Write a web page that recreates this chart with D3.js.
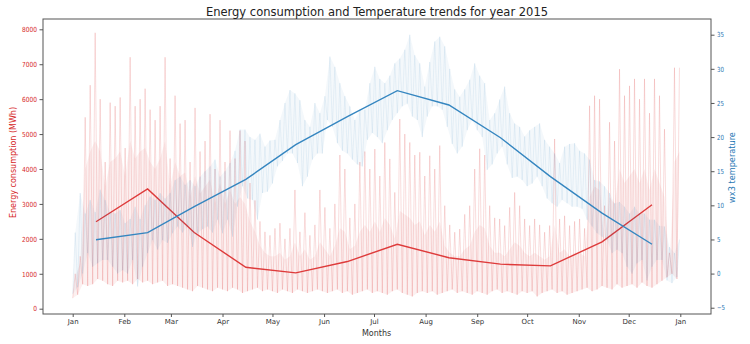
<!DOCTYPE html>
<html>
<head>
<meta charset="utf-8">
<script src="https://cdn.jsdelivr.net/npm/d3@7"></script>
<style>
  html, body { margin: 0; padding: 0; background: #fff; }
  svg text { font-family: "DejaVu Sans", sans-serif; }
</style>
</head>
<body>
<svg id="chart" width="750" height="344"></svg>
<script>
// ---------- DATA ----------
const monthLabels = ["Jan","Feb","Mar","Apr","May","Jun","Jul","Aug","Sep","Oct","Nov","Dec"];
// Monthly averages (plotted on 15th of each month)
const monthlyEnergy = [2490, 3430, 2180, 1185, 1025, 1350, 1844, 1460, 1275, 1225, 1915, 2978];
const monthlyTemp   = [4.95, 6.0, 9.8, 13.8, 18.9, 23.0, 26.8, 24.7, 19.9, 14.2, 8.85, 4.3];

// Detailed trace: one low reading every 3 days (day 0,3,6,...)
// and peak readings half-way between (day 1.5, 4.5, ...)
const energyLow = [
  300, 400, 700, 650, 700, 850, 800, 700, 650, 800, 750,
  800, 700, 850, 750, 800, 700, 750, 800, 650,
  700, 650, 600, 550, 500, 650, 600, 550, 500, 600,
  550, 500, 600, 550, 450, 500, 550, 600, 500, 550,
  500, 450, 550, 500, 450, 550, 500, 450, 500, 550, 500,
  450, 500, 550, 450, 500, 400, 450, 500, 550, 450,
  500, 450, 400, 500, 550, 450, 400, 350, 450, 500,
  450, 500, 400, 450, 500, 550, 450, 500, 450, 400,
  500, 450, 400, 500, 550, 450, 500, 450, 400, 500,
  450, 500, 350, 450, 500, 550, 450, 500, 400, 450,
  500, 550, 600, 500, 550, 650, 600, 550, 700, 600,
  650, 700, 600, 750, 650, 600, 700, 800, 900, 1000, 850
];
// typical daily peak (top of the dense band)
const energyMid = [
  900, 1300, 4000, 4500, 4800, 4500, 3500, 4200, 4300, 4500, 3800,
  4800, 4300, 4500, 4600, 4200, 4000, 4300, 4800, 3500,
  4200, 3800, 3900, 3200, 3800, 3300, 3500, 3700, 3000, 3600,
  3000, 3400, 3000, 3200, 3000, 2500, 2200, 1800, 1600, 1500,
  1500, 1600, 1400, 1500, 1900, 1500, 1700, 1400, 1500, 1900, 1700,
  1500, 1800, 2300, 2200, 1700, 1800, 2200, 2400, 2200, 2500,
  2200, 2600, 2400, 2000, 2800, 2700, 2600, 2400, 2500, 2100,
  2400, 2200, 2500, 1800, 1600, 1500, 1500, 1700, 1800, 2200,
  2400, 2300, 1800, 1600, 1600, 1500, 1700, 1900, 1800, 1600,
  1500, 1600, 1500, 1400, 1500, 2400, 1600, 1700, 1500, 1600,
  1600, 1500, 3200, 3500, 3400, 1900, 3200, 3000, 4000, 3600,
  3800, 4000, 3600, 4000, 3400, 4000, 3600, 3200, 1200, 4200, 4500
];
// spike maximum
const energyHigh = [
  1000, 1500, 5480, 6400, 7900, 6000, 4200, 5900, 5800, 6050, 4600,
  7200, 5800, 6000, 6300, 5700, 5400, 5800, 7200, 4300,
  6100, 5300, 5400, 4200, 5750, 4500, 4800, 5570, 4000, 5400,
  4200, 5100, 4300, 5100, 4800, 3600, 3100, 2500, 2200, 2100,
  2300, 2450, 2000, 2300, 3400, 2200, 2750, 2100, 2400, 3400, 2900,
  2300, 3000, 4400, 4000, 2600, 3000, 4200, 4500, 4000, 4570,
  3800, 4760, 4290, 3330, 5430, 5000, 4760, 4400, 4480, 3800,
  4380, 4000, 4670, 2950, 2400, 2190, 2280, 2700, 2950, 4000,
  4580, 4400, 2950, 2600, 2570, 2380, 2900, 3330, 2950, 2570,
  2380, 2570, 2400, 2190, 2380, 4860, 2570, 2660, 2380, 2500,
  2570, 2300, 5810, 6100, 6000, 2950, 5340, 4800, 6860, 6100,
  6380, 6580, 6000, 6580, 5600, 6580, 6100, 5140, 1600, 6900, 6900
];
const tempLow = [
  -3, -2, 0, 3, 1, 1.5, 2, 2, 1, 0, 0.5,
  0, 2, -1.9, 1, 3, 4.9, 3.5, 4.9, 4.5,
  5.9, 6.9, 6, 6.9, 3.9, 5.9, 6.5, 6.9, 6, 7.9,
  5.9, 7.9, 5.4, 9.8, 12.8, 11, 10.8, 7.9, 11.8, 12,
  13.2, 15.7, 16.5, 17.6, 17.6, 16.2, 12.8, 14.2, 16.7, 17.6, 17.6,
  22.5, 21.5, 19.1, 18, 17.6, 16.7, 16, 15.7, 19.6, 20.6,
  20, 19.1, 21, 22.5, 23.5, 24.5, 24.9, 23, 22.5, 20,
  23, 24.5, 24.5, 24, 21.5, 19, 17.6, 18.6, 21, 22.5,
  21, 20, 15.2, 16, 17.6, 18.6, 16, 14, 14.2, 13.7,
  12.8, 13.2, 14.2, 12.8, 11, 10.3, 9.8, 10.8, 10.3, 9.8,
  9.8, 9.5, 7.9, 6.9, 5.9, 5.4, 4.9, 3, 3.5, 3,
  1, 0, 1.5, 2, -1, 1, 2, 2, -1, -1.4, -0.5
];
const tempHigh = [
  6, 11.8, 8.8, 10.8, 9, 12.3, 10.8, 9, 8.8, 9.3, 7.4,
  8, 9.8, 8, 10, 11.3, 10.8, 11.8, 11, 11.8,
  13.7, 14.2, 13, 13.7, 12.8, 14.2, 15, 15.7, 16.7, 14.2,
  15, 16.2, 18, 21.1, 21.1, 20, 19.6, 20.5, 18.6, 19.5,
  19.6, 22.5, 25, 26.9, 26.4, 25.4, 22.5, 21.5, 25, 23.5, 26,
  31.8, 30.3, 27.9, 26, 24.5, 22.5, 24, 24, 27.9, 30.3,
  28.5, 27.9, 29, 30.8, 31.5, 32.8, 35, 32, 30.8, 27.4,
  31, 34, 34.7, 33.3, 30, 27, 25.9, 27, 28.4, 30.8,
  29, 27.9, 22.5, 23.5, 25.5, 27.4, 23.5, 22, 21.5, 20.1,
  21, 21.5, 22, 19.6, 18.6, 17.6, 16.2, 18.6, 19, 19.1,
  18, 17.6, 16.7, 13.7, 13.5, 12.8, 11.8, 10.3, 10.5, 9.8,
  8.8, 9.8, 8.8, 8.8, 7.9, 7.9, 7, 6.9, 3.9, 3, 5
];
const energyTicks = [0, 1000, 2000, 3000, 4000, 5000, 6000, 7000, 8000];
const tempTicks = [-5, 0, 5, 10, 15, 20, 25, 30, 35];

// ---------- LAYOUT ----------
const m = { left: 43, right: 711, top: 19, bottom: 314 };
const RED = "#d62728", BLUE = "#1f77b4";
const LINE_RED = "#de3b3b", LINE_BLUE = "#3586c0";
const DAY = 864e5;
const t0 = Date.UTC(2015, 0, 1);

const svg = d3.select("#chart");

const x = d3.scaleUtc()
  .domain([new Date(t0 - 17.84 * DAY), new Date(t0 + 383.44 * DAY)])
  .range([m.left, m.right]);
const yE = d3.scaleLinear().domain([-152, 8295]).range([m.bottom, m.top]);
const yT = d3.scaleLinear().domain([-5.92, 37.3]).range([m.bottom, m.top]);

const lowDate = i => new Date(t0 + 3 * i * DAY);
const highDate = i => new Date(t0 + (3 * i + 1.5) * DAY);

// interleaved trace: low at day 3i, high at day 3i+1.5
function trace(lows, highs) {
  const pts = [];
  lows.forEach((lo, i) => {
    pts.push({ date: lowDate(i), v: lo });
    pts.push({ date: highDate(i), v: highs[i] });
  });
  return pts;
}
// closed band: highs forward, lows backward
function band(lows, highs) {
  const top = highs.map((v, i) => ({ date: highDate(i), v }));
  const bot = lows.map((v, i) => ({ date: lowDate(i), v })).reverse();
  return top.concat(bot);
}
const monthDates = monthLabels.map((_, i) => new Date(Date.UTC(2015, i, 15)));

const plot = svg.append("g");
const lineE = d3.line().x(d => x(d.date)).y(d => yE(d.v));
const lineT = d3.line().x(d => x(d.date)).y(d => yT(d.v));

// energy dense band
plot.append("path")
  .attr("fill", RED).attr("fill-opacity", 0.07).attr("stroke", "none")
  .attr("d", lineE(band(energyLow, energyMid)) + "Z");
// energy spikes
plot.append("path")
  .datum(trace(energyLow, energyHigh))
  .attr("fill", "none")
  .attr("stroke", RED).attr("stroke-opacity", 0.2).attr("stroke-width", 0.8)
  .attr("d", lineE);

// energy monthly line
plot.append("path")
  .datum(monthlyEnergy)
  .attr("fill", "none")
  .attr("stroke", LINE_RED)
  .attr("stroke-width", 1.4)
  .attr("d", d3.line().x((d, i) => x(monthDates[i])).y(d => yE(d)));

// temperature band + trace
plot.append("path")
  .attr("fill", BLUE).attr("fill-opacity", 0.05).attr("stroke", "none")
  .attr("d", lineT(band(tempLow, tempHigh)) + "Z");
plot.append("path")
  .datum(trace(tempLow, tempHigh))
  .attr("fill", "none")
  .attr("stroke", BLUE).attr("stroke-opacity", 0.1).attr("stroke-width", 0.8)
  .attr("d", lineT);

// temperature monthly line
plot.append("path")
  .datum(monthlyTemp)
  .attr("fill", "none")
  .attr("stroke", LINE_BLUE)
  .attr("stroke-width", 1.4)
  .attr("d", d3.line().x((d, i) => x(monthDates[i])).y(d => yT(d)));

// ---------- AXES ----------
const axisColor = "#555";
function styleAxis(g) {
  g.select(".domain").remove();
  g.selectAll(".tick line").attr("stroke", axisColor);
  g.selectAll(".tick text").attr("font-family", "DejaVu Sans, sans-serif");
}

const xAxis = svg.append("g")
  .attr("transform", `translate(0,${m.bottom})`)
  .call(d3.axisBottom(x)
    .ticks(d3.utcMonth.every(1))
    .tickFormat(d3.utcFormat("%b"))
    .tickSize(3).tickPadding(2.5));
styleAxis(xAxis);
xAxis.selectAll(".tick text").attr("font-size", 7).attr("fill", "#333");

const yAxisL = svg.append("g")
  .attr("transform", `translate(${m.left},0)`)
  .call(d3.axisLeft(yE).tickValues(energyTicks).tickFormat(d3.format("d"))
    .tickSize(3.5).tickPadding(2.5));
styleAxis(yAxisL);
yAxisL.selectAll(".tick text").attr("font-size", 7).attr("fill", RED)
  .each(function () {
    const n = this.getComputedTextLength();
    d3.select(this).attr("textLength", n * 0.84).attr("lengthAdjust", "spacingAndGlyphs");
  });

const yAxisR = svg.append("g")
  .attr("transform", `translate(${m.right},0)`)
  .call(d3.axisRight(yT).tickValues(tempTicks).tickSize(3.5).tickPadding(2.5));
styleAxis(yAxisR);
yAxisR.selectAll(".tick text").attr("font-size", 7).attr("fill", BLUE)
  .each(function () {
    const n = this.getComputedTextLength();
    d3.select(this).attr("textLength", n * 0.78).attr("lengthAdjust", "spacingAndGlyphs");
  });

// frame (spines)
svg.append("rect")
  .attr("x", m.left).attr("y", m.top)
  .attr("width", m.right - m.left).attr("height", m.bottom - m.top)
  .attr("fill", "none").attr("stroke", axisColor).attr("stroke-width", 1);

// ---------- LABELS ----------
svg.append("text")
  .attr("x", (m.left + m.right) / 2).attr("y", 15.7)
  .attr("text-anchor", "middle")
  .attr("font-size", 11.5).attr("fill", "#222")
  .text("Energy consumption and Temperature trends for year 2015");

svg.append("text")
  .attr("x", 376.5).attr("y", 336)
  .attr("text-anchor", "middle")
  .attr("font-size", 8).attr("fill", "#333")
  .text("Months");

svg.append("text")
  .attr("transform", "translate(15.5,162.5) rotate(-90)")
  .attr("text-anchor", "middle")
  .attr("font-size", 8).attr("fill", RED)
  .text("Energy consumption (MWh)");

svg.append("text")
  .attr("transform", "translate(735,167.5) rotate(-90)")
  .attr("text-anchor", "middle")
  .attr("font-size", 8.2).attr("fill", BLUE)
  .text("wx3 temperature");
</script>
</body>
</html>
